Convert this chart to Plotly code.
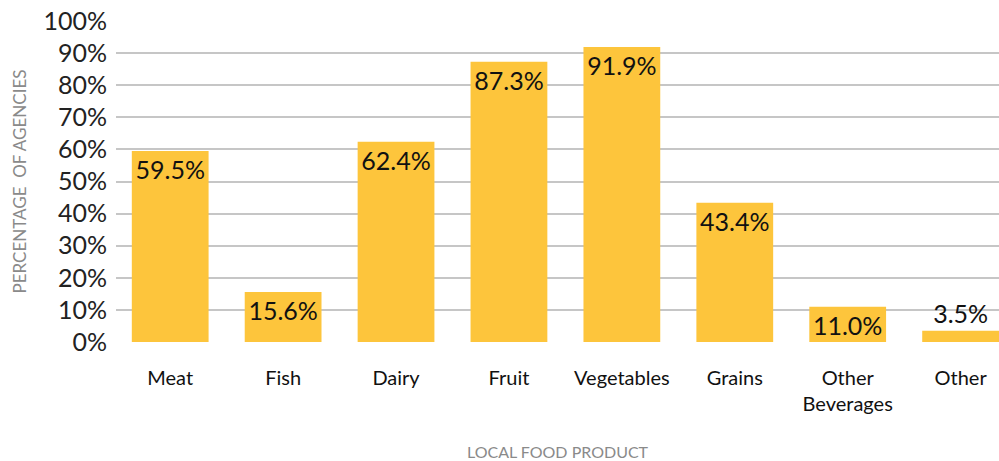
import plotly.graph_objects as go

categories = ["Meat", "Fish", "Dairy", "Fruit", "Vegetables", "Grains",
              "Other<br>Beverages", "Other"]
percentages = [59.5, 15.6, 62.4, 87.3, 91.9, 43.4, 11.0, 3.5]
y_ticks = list(range(0, 101, 10))
y_tick_labels = [f"{t}%" for t in y_ticks]

font_family = "Lato, 'Noto Sans', sans-serif"

# labels sit inside the top of each bar, unless the bar is too short
label_pos = ["inside" if v > 8 else "outside" for v in percentages]

fig = go.Figure()

fig.add_trace(go.Bar(
    x=categories,
    y=percentages,
    marker=dict(color="#FDC53C", line=dict(width=0)),
    texttemplate="%{y:.1f}%",
    textposition=label_pos,
    insidetextanchor="end",
    constraintext="none",
    cliponaxis=False,
    textfont=dict(size=25, color="#111111", family=font_family),
    showlegend=False,
))

fig.update_layout(
    width=999,
    height=461,
    margin=dict(l=116, r=0, t=21, b=119),
    plot_bgcolor="white",
    paper_bgcolor="white",
    bargap=0.32,
    font=dict(family=font_family),
    xaxis=dict(
        range=[-0.48, 7.34],
        showgrid=False,
        showline=False,
        ticks="",
        ticklabelstandoff=22,
        tickfont=dict(size=20, color="#111111"),
        title=dict(text="LOCAL FOOD PRODUCT", standoff=34,
                   font=dict(size=16, color="#8a8a8a")),
        automargin=False,
    ),
    yaxis=dict(
        range=[0, 100],
        tickvals=y_ticks,
        ticktext=y_tick_labels,
        showgrid=True,
        gridcolor="#c6c6c6",
        gridwidth=2,
        zeroline=False,
        showline=False,
        ticks="",
        ticklabelstandoff=8,
        tickfont=dict(size=25, color="#222222"),
        title=dict(text="PERCENTAGE  OF AGENCIES", standoff=12,
                   font=dict(size=17, color="#8a8a8a")),
        automargin=False,
    ),
)

# remove the default page margin so the chart sits at the window's corner
fig.write_html(
    "out.html",
    config={"displayModeBar": False},
    post_script="document.body.style.margin='0';document.body.style.overflow='hidden';",
)
